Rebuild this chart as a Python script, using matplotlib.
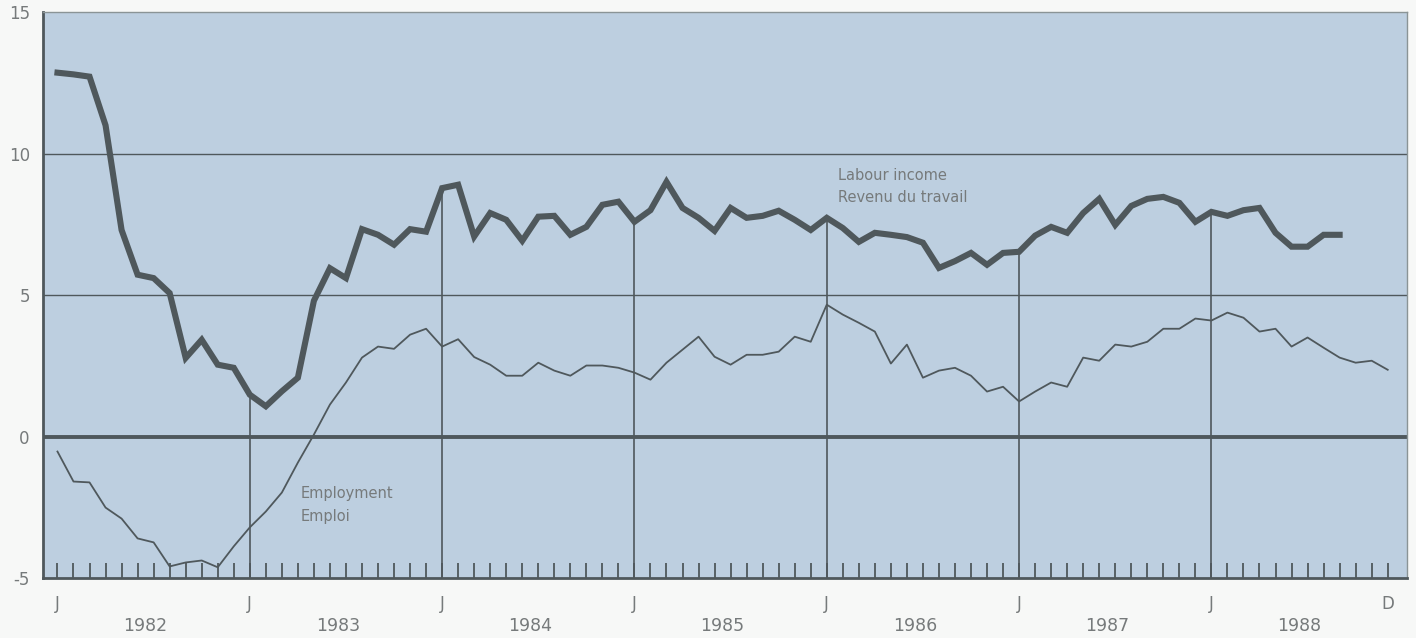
import matplotlib
matplotlib.use('Agg')
import matplotlib.pyplot as plt
import numpy as np

#-----DATA-----#
# monthly values, Jan 1982 = month 0
labour_income = [12.86, 12.8, 12.72, 11.0, 7.3, 5.72, 5.6, 5.07, 2.78, 3.42,
                 2.54, 2.43, 1.48, 1.07, 1.6, 2.08, 4.8, 5.95, 5.6, 7.33,
                 7.13, 6.78, 7.33, 7.24, 8.78, 8.9, 7.07, 7.9, 7.66, 6.92,
                 7.77, 7.8, 7.13, 7.41, 8.19, 8.3, 7.59, 8.0, 9.0, 8.08,
                 7.73, 7.27, 8.08, 7.73, 7.8, 7.98, 7.66, 7.3, 7.73, 7.37,
                 6.88, 7.2, 7.13, 7.05, 6.85, 5.96, 6.2, 6.49, 6.07, 6.49,
                 6.53, 7.1, 7.41, 7.2, 7.9, 8.4, 7.48, 8.15, 8.4, 8.47,
                 8.26, 7.59, 7.94, 7.8, 8.0, 8.08, 7.2, 6.71, 6.71, 7.13,
                 7.13]
employment = [-0.53, -1.59, -1.62, -2.51, -2.9, -3.6, -3.74, -4.59, -4.45, -4.38,
              -4.62, -3.88, -3.21, -2.65, -1.98, -0.92, 0.07, 1.13, 1.91, 2.79,
              3.18, 3.1, 3.6, 3.81, 3.18, 3.44, 2.81, 2.54, 2.15, 2.15,
              2.61, 2.33, 2.15, 2.51, 2.51, 2.43, 2.26, 2.01, 2.61, 3.07,
              3.53, 2.82, 2.54, 2.89, 2.89, 3.0, 3.53, 3.35, 4.66, 4.31,
              4.02, 3.71, 2.58, 3.25, 2.08, 2.33, 2.43, 2.15, 1.59, 1.76,
              1.24, 1.59, 1.91, 1.76, 2.79, 2.68, 3.25, 3.18, 3.35, 3.81,
              3.81, 4.17, 4.1, 4.38, 4.2, 3.71, 3.81, 3.18, 3.5, 3.14,
              2.79, 2.61, 2.68, 2.36]
years = ['1982', '1983', '1984', '1985', '1986', '1987', '1988']
y_ticks = [15, 10, 5, 0, -5]

bg = '#bdcfe0'
ink = '#4f585c'
txt = '#767a7b'

fig = plt.figure(figsize=(14.16, 6.38), dpi=100)
fig.patch.set_facecolor('#f7f8f7')
ax = fig.add_axes([0.0304, 0.094, 0.9632, 0.887])
ax.set_facecolor(bg)

x_lab = np.arange(len(labour_income))
x_emp = np.arange(len(employment))

# horizontal reference lines
ax.axhline(0, color=ink, lw=2.8, zorder=2)
for v in (5, 10):
    ax.axhline(v, color=ink, lw=1.0, zorder=2)

# vertical lines at each January, up to the labour income line
for m in range(12, 84, 12):
    if m < len(labour_income):
        ax.vlines(m, -5, labour_income[m], color=ink, lw=1.2, zorder=2)

ax.plot(x_emp, employment, color=ink, lw=1.3, zorder=3)
ax.plot(x_lab, labour_income, color=ink, lw=4.4, solid_joinstyle='miter', zorder=4)

ax.set_xlim(-0.9, 84.2)
ax.set_ylim(-5, 15)

# monthly ticks inside, J/D labels
month_ticks = list(range(84))
month_labels = [''] * 84
for m in range(0, 84, 12):
    month_labels[m] = 'J'
month_labels[83] = 'D'
ax.set_xticks(month_ticks)
ax.set_xticklabels(month_labels, fontsize=12, color=txt)
ax.tick_params(axis='x', which='major', direction='in', length=11, width=1.3,
               color=ink, pad=12)
ax.set_xticks([5.5 + 12 * i for i in range(len(years))], minor=True)
ax.set_xticklabels(years, minor=True, fontsize=12.5, color=txt)
ax.tick_params(axis='x', which='minor', length=0, pad=28)

ax.set_yticks(y_ticks)
ax.set_yticklabels([str(v) for v in y_ticks], fontsize=12, color=txt)
ax.tick_params(axis='y', length=0, pad=9.5)

for side in ('left', 'bottom'):
    ax.spines[side].set_color(ink)
    ax.spines[side].set_linewidth(2.0)
for side in ('top', 'right'):
    ax.spines[side].set_color('#8a9496')
    ax.spines[side].set_linewidth(1.0)

ax.text(48.7, 8.85, 'Labour income\nRevenu du travail', fontsize=10.5,
        color=txt, ha='left', va='center', linespacing=1.6)
ax.text(15.2, -2.42, 'Employment\nEmploi', fontsize=10.5,
        color=txt, ha='left', va='center', linespacing=1.6)

fig.savefig('out.png', dpi=100, facecolor=fig.get_facecolor())
